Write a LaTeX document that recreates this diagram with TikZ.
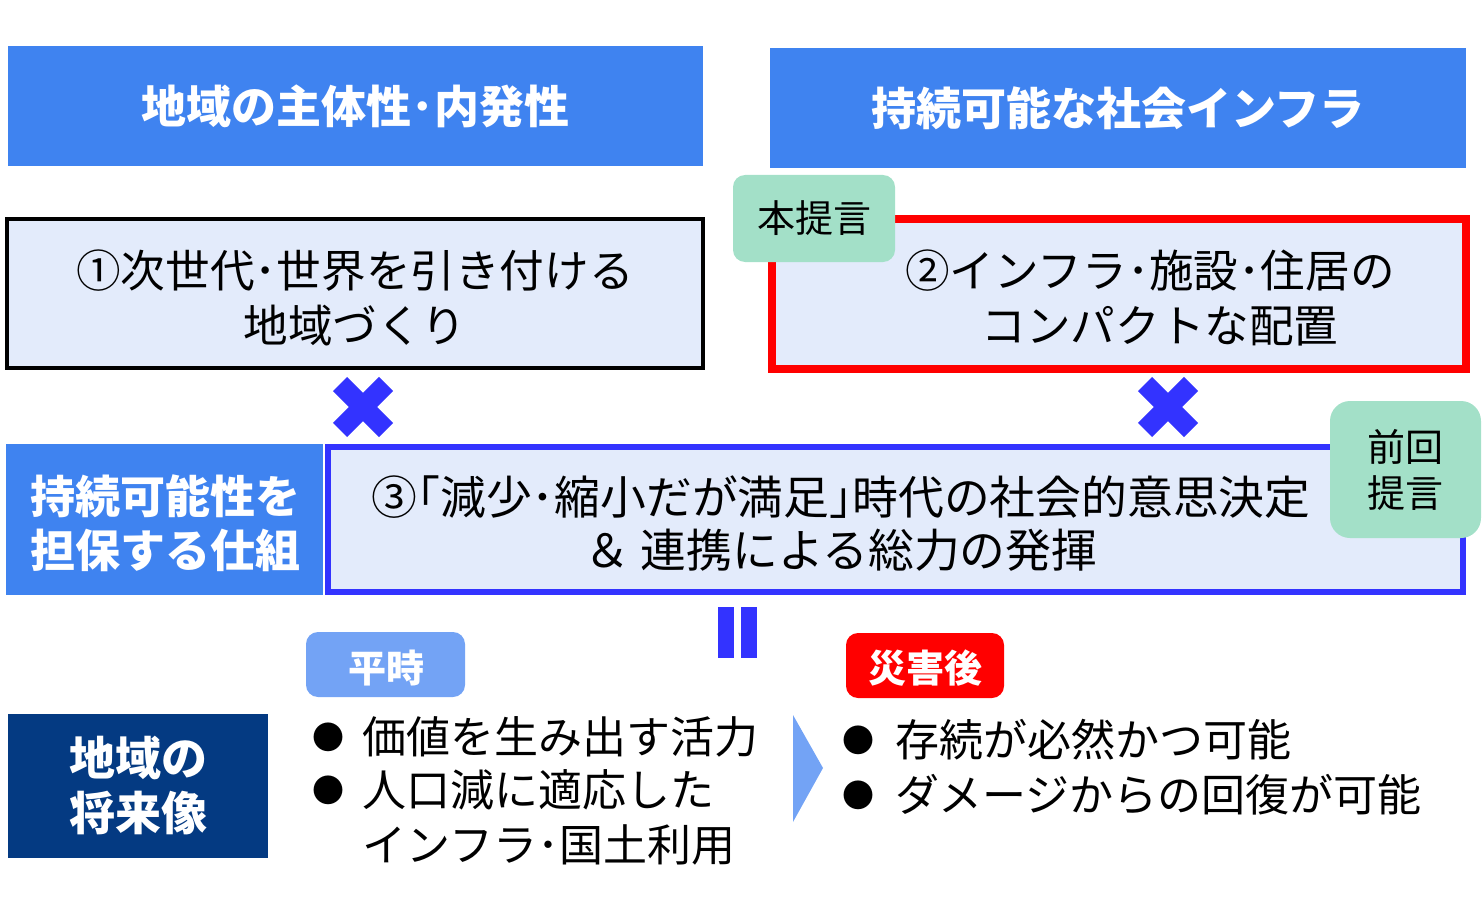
\documentclass[tikz,border=0pt]{standalone}
\usepackage{fontspec}
\setmainfont{Noto Sans CJK JP}
\definecolor{topblue}{RGB}{63,131,240}
\definecolor{lightfill}{RGB}{227,235,251}
\definecolor{taggreen}{RGB}{163,224,200}
\definecolor{markblue}{RGB}{51,51,255}
\definecolor{paleblue}{RGB}{115,163,245}
\definecolor{navy}{RGB}{4,58,130}
\definecolor{alarmred}{RGB}{255,0,0}
\begin{document}
\begin{tikzpicture}[x=0.5pt,y=-0.5pt,
  hdr/.style={fill=topblue, text=white, inner sep=0pt, align=center,
    font=\bfseries\fontsize{22.5pt}{27pt}\selectfont},
  hdrtext/.style={text=white, inner sep=0pt, align=center,
    font=\bfseries\fontsize{22.5pt}{27pt}\selectfont},
  frame/.style={fill=lightfill, inner sep=0pt},
  body/.style={inner sep=0pt, align=center, font=\fontsize{22.3pt}{27.5pt}\selectfont},
  tag/.style={fill=taggreen, rounded corners=6pt, inner sep=0pt, align=center,
    font=\fontsize{19pt}{23pt}\selectfont},
  pill/.style={rounded corners=6pt, inner sep=0pt},
  pilltext/.style={inner sep=0pt, text=white, font=\bfseries\fontsize{19pt}{23pt}\selectfont},
  xmark/.style={draw=markblue, line width=10pt},
  item/.style={inner sep=0pt, anchor=west, font=\fontsize{22pt}{27pt}\selectfont},
  dot/.style={inner sep=0pt, font=\fontsize{16pt}{20pt}\selectfont}
]
\useasboundingbox (0,0) rectangle (1484,904);

% top headers
\node[hdr, minimum width=347.5pt, minimum height=60pt] (h1) at (355.5,106) {地域の主体性･内発性};
\node[hdr, minimum width=348pt, minimum height=60pt] (h2) at (1118,108) {持続可能な社会インフラ};

% box 1
\node[frame, draw=black, line width=2pt, minimum width=348pt, minimum height=74.5pt] (b1) at (355,293.5) {};
\node[body] (t1) at (355,298) {①次世代･世界を引き付ける\\地域づくり};

% box 2
\node[frame, draw=alarmred, line width=4pt, minimum width=347pt, minimum height=75pt] (b2) at (1119,294) {};
\node[body] (t2) at (1150,298) {②インフラ･施設･住居の\\\hspace*{10pt}コンパクトな配置};
\node[tag, minimum width=81pt, minimum height=43.5pt] (tag1) at (814,218.5) {本提言};

% crosses
\coordinate (x1) at (363,407);
\coordinate (x2) at (1168,407);
\draw[xmark] (x1) +(-23,-23) -- +(23,23);
\draw[xmark] (x1) +(-23,23) -- +(23,-23);
\draw[xmark] (x2) +(-23,-23) -- +(23,23);
\draw[xmark] (x2) +(-23,23) -- +(23,-23);

% row 3
\node[fill=topblue, inner sep=0pt, minimum width=158.5pt, minimum height=75.5pt] (l3) at (164.5,519.5) {};
\node[hdrtext] (l3t) at (166,523) {持続可能性を\\担保する仕組};
\node[frame, draw=markblue, line width=3pt, minimum width=567.5pt, minimum height=72.5pt] (b3) at (895.5,519.5) {};
\node[body, font=\fontsize{22.9pt}{26.5pt}\selectfont] (t3) at (841,524) {③｢減少･縮小だが満足｣時代の社会的意思決定\\＆ 連携による総力の発揮};
\node[tag, rounded corners=10pt, minimum width=75.5pt, minimum height=68.5pt] (tag2) at (1405.5,469.5) {前回\\提言};

% equals sign
\fill[markblue] (718,607) rectangle (734,658);
\fill[markblue] (741,607) rectangle (757,658);

% bottom
\node[fill=navy, text=white, inner sep=0pt, align=center, minimum width=130pt, minimum height=72pt,
  font=\bfseries\fontsize{23pt}{27.5pt}\selectfont] (fut) at (138,786) {地域の\\将来像};
\node[pill, fill=paleblue, minimum width=79.5pt, minimum height=32.5pt] (p1) at (385.5,664.5) {};
\node[pilltext] (p1t) at (386,668) {平時};
\node[pill, fill=alarmred, minimum width=79pt, minimum height=32.5pt] (p2) at (925,665.5) {};
\node[pilltext] (p2t) at (925,668.5) {災害後};

\node[dot] (d1) at (328,737) {●};
\node[item] (i1) at (362,737) {価値を生み出す活力};
\node[dot] (d2) at (328,790) {●};
\node[item] (i2) at (362,790) {人口減に適応した};
\node[item] (i3) at (362,845) {インフラ･国土利用};

\fill[paleblue] (793,715) -- (823,768) -- (793,822) -- cycle;

\node[dot] (d3) at (858,740) {●};
\node[item] (i4) at (895,740) {存続が必然かつ可能};
\node[dot] (d4) at (858,795) {●};
\node[item] (i5) at (895,795) {ダメージからの回復が可能};
\end{tikzpicture}
\end{document}
